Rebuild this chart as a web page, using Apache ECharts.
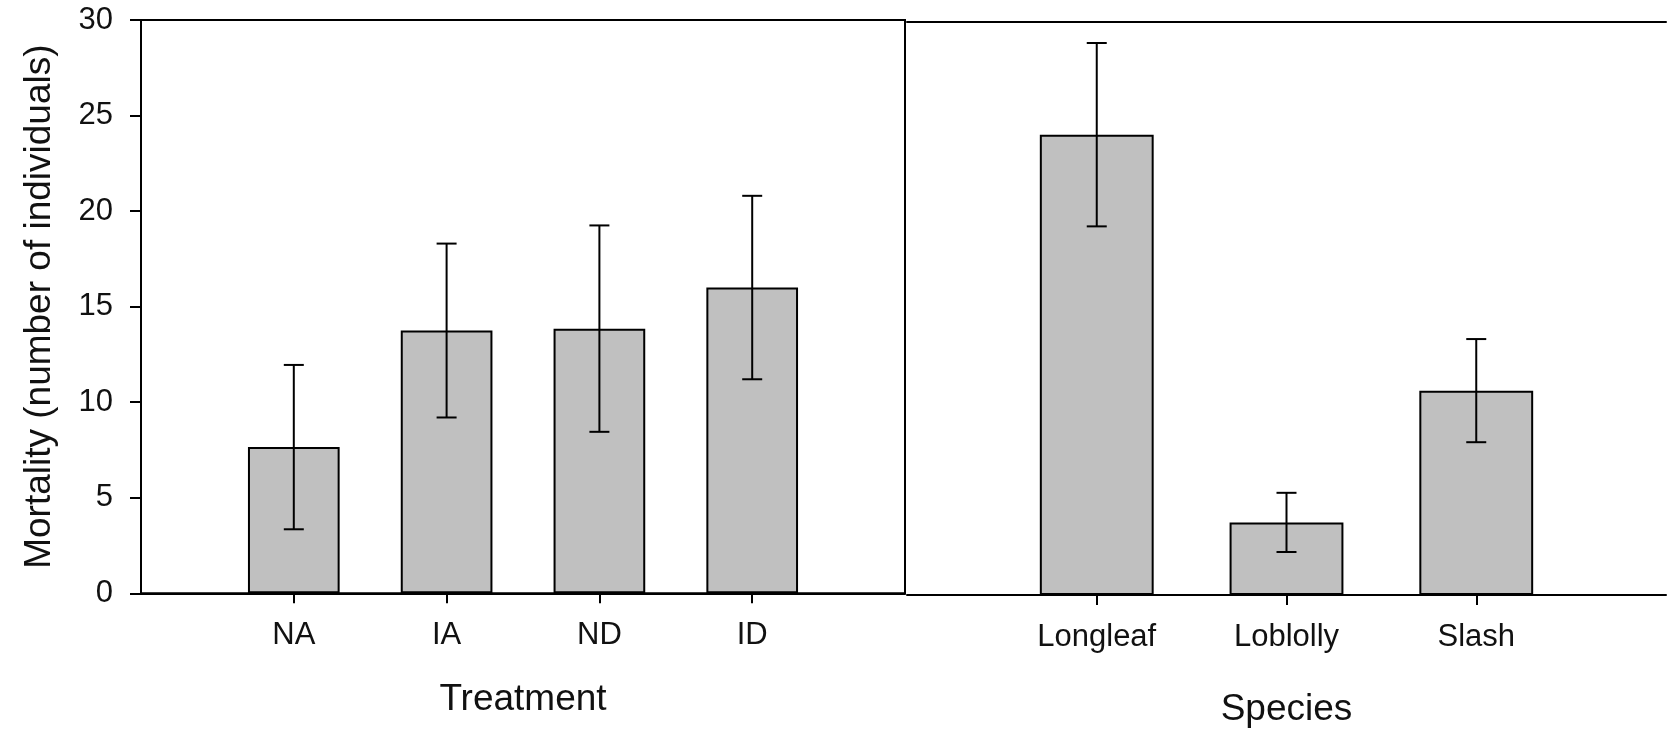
<!DOCTYPE html>
<html>
<head>
<meta charset="utf-8">
<script src="https://cdn.jsdelivr.net/npm/echarts@6/dist/echarts.min.js"></script>
<style>
  html, body { margin: 0; padding: 0; background: #fff; }
  #chart { width: 1669px; height: 733px; }
</style>
</head>
<body>
<div id="chart"></div>
<script>
// Mortality by treatment (left panel) and by pine species (right panel)
const treatments = ['NA', 'IA', 'ND', 'ID'];
const treatmentMeans = [7.65, 13.75, 13.85, 16.0];
const treatmentErrors = [4.3, 4.55, 5.4, 4.8];

const species = ['Longleaf', 'Loblolly', 'Slash'];
const speciesMeans = [24.1, 3.8, 10.7];
const speciesErrors = [4.8, 1.55, 2.7];

const yTicks = [0, 5, 10, 15, 20, 25, 30];

const FONT = '"Liberation Sans", Arial, sans-serif';
const INK = '#111';
const BAR_FILL = '#c0c0c0';

// pad each panel with an empty slot at both ends so the bars sit inside the frame
const padded = arr => [''].concat(arr, ['']);
const leftCats = padded(treatments);
const rightCats = padded(species);
const leftBars = ['-'].concat(treatmentMeans, ['-']);
const rightBars = ['-'].concat(speciesMeans, ['-']);
const errData = (means, errs) => means.map((m, i) => [i + 1, m, errs[i]]);

function errorBar(params, api) {
  const x = api.value(0);
  const m = api.value(1);
  const e = api.value(2);
  const hi = api.coord([x, m + e]);
  const lo = api.coord([x, m - e]);
  const half = 10;
  const style = { stroke: '#000', lineWidth: 2 };
  return {
    type: 'group',
    children: [
      { type: 'line', shape: { x1: hi[0], y1: hi[1], x2: lo[0], y2: lo[1] }, style },
      { type: 'line', shape: { x1: hi[0] - half, y1: hi[1], x2: hi[0] + half, y2: hi[1] }, style },
      { type: 'line', shape: { x1: lo[0] - half, y1: lo[1], x2: lo[0] + half, y2: lo[1] }, style }
    ]
  };
}

const tickOnlyOnNamed = (idx, val) => val !== '';

const chart = echarts.init(document.getElementById('chart'), null, { renderer: 'canvas' });

chart.setOption({
  backgroundColor: '#fff',
  animation: false,
  textStyle: { fontFamily: FONT },
  grid: [
    { left: 141, top: 20, width: 764, height: 573.3, show: true, borderColor: '#000', borderWidth: 2, backgroundColor: 'transparent' },
    { left: 907, top: 22, width: 768, height: 573.7 }
  ],
  xAxis: [
    {
      gridIndex: 0, type: 'category', data: leftCats, boundaryGap: false, position: 'bottom',
      name: 'Treatment', nameLocation: 'middle', nameGap: 88,
      nameTextStyle: { fontSize: 37, color: INK, fontFamily: FONT },
      axisLine: { lineStyle: { color: '#000', width: 2 } },
      axisTick: { show: true, length: 10, inside: false, interval: tickOnlyOnNamed, lineStyle: { color: '#000', width: 2 } },
      axisLabel: { interval: 0, margin: 27, fontSize: 31, color: INK, fontFamily: FONT },
      splitLine: { show: false }
    },
    {
      gridIndex: 1, type: 'category', data: rightCats, boundaryGap: false, position: 'bottom',
      name: 'Species', nameLocation: 'middle', nameGap: 96,
      nameTextStyle: { fontSize: 37, color: INK, fontFamily: FONT },
      axisLine: { lineStyle: { color: '#000', width: 2 } },
      axisTick: { show: true, length: 10, inside: false, interval: tickOnlyOnNamed, lineStyle: { color: '#000', width: 2 } },
      axisLabel: { interval: 0, margin: 27, fontSize: 31, color: INK, fontFamily: FONT },
      splitLine: { show: false }
    },
    {
      // top frame line of the species panel
      gridIndex: 1, type: 'category', data: rightCats, boundaryGap: false, position: 'top',
      axisLine: { lineStyle: { color: '#000', width: 2 } },
      axisTick: { show: false }, axisLabel: { show: false }, splitLine: { show: false }
    }
  ],
  yAxis: [
    {
      gridIndex: 0, type: 'value', min: yTicks[0], max: yTicks[yTicks.length - 1], interval: 5,
      name: 'Mortality (number of individuals)', nameLocation: 'middle', nameGap: 83,
      nameTextStyle: { fontSize: 37, color: INK, fontFamily: FONT },
      axisLine: { show: true, lineStyle: { color: '#000', width: 2 } },
      axisTick: { show: true, length: 11, inside: false, lineStyle: { color: '#000', width: 2 } },
      axisLabel: { margin: 28, fontSize: 31, color: INK, fontFamily: FONT },
      splitLine: { show: false }
    },
    {
      gridIndex: 1, type: 'value', min: yTicks[0], max: yTicks[yTicks.length - 1], interval: 5,
      show: false
    }
  ],
  series: [
    {
      type: 'bar', xAxisIndex: 0, yAxisIndex: 0, data: leftBars, barWidth: '60%',
      itemStyle: { color: BAR_FILL, borderColor: '#000', borderWidth: 2 },
      silent: true
    },
    {
      type: 'bar', xAxisIndex: 1, yAxisIndex: 1, data: rightBars, barWidth: '60%',
      itemStyle: { color: BAR_FILL, borderColor: '#000', borderWidth: 2 },
      silent: true
    },
    {
      type: 'custom', xAxisIndex: 0, yAxisIndex: 0, renderItem: errorBar,
      data: errData(treatmentMeans, treatmentErrors), z: 10, clip: false, silent: true,
      encode: { x: 0, y: 1 }
    },
    {
      type: 'custom', xAxisIndex: 1, yAxisIndex: 1, renderItem: errorBar,
      data: errData(speciesMeans, speciesErrors), z: 10, clip: false, silent: true,
      encode: { x: 0, y: 1 }
    }
  ]
});
</script>
</body>
</html>
